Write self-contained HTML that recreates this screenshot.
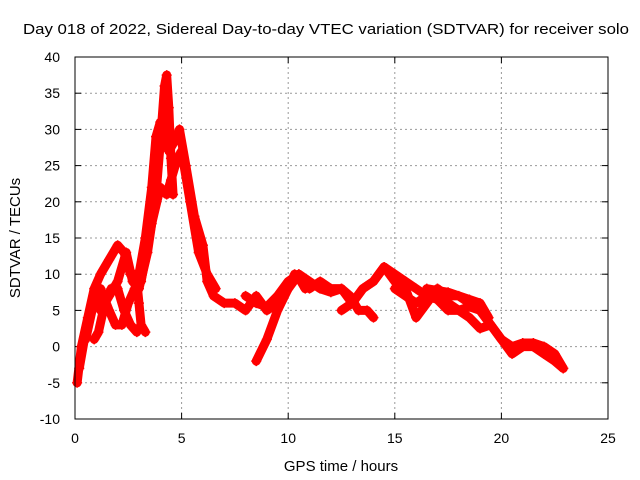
<!DOCTYPE html>
<html><head><meta charset="utf-8"><style>body{margin:0;background:#fff}svg{display:block;font-family:"Liberation Sans",sans-serif}</style></head>
<body>
<svg id="c" width="640" height="480">
<rect width="640" height="480" fill="#fff"/>
<text x="326" y="34" font-size="15" text-anchor="middle" textLength="606" lengthAdjust="spacingAndGlyphs">Day 018 of 2022, Sidereal Day-to-day VTEC variation (SDTVAR) for receiver solo</text>
<text x="341" y="471" font-size="15" text-anchor="middle">GPS time / hours</text>
<text transform="translate(20,238) rotate(-90)" font-size="15" text-anchor="middle">SDTVAR / TECUs</text>
<g id="grid"></g><g id="data"></g>
<rect x="75" y="57" width="533" height="362" fill="none" stroke="#000" stroke-width="1"/>
</svg>
<script>
const xTicks=[0,5,10,15,20,25];
const yTicks=[-10,-5,0,5,10,15,20,25,30,35,40];
const track1=[[0.1,-5],[0.3,0],[0.6,4],[0.9,8],[1.2,10],[1.6,12],[2.0,14],[2.3,13],[2.6,10],[3.0,10],[3.3,15],[3.6,22],[3.8,29],[4.0,31],[4.2,30],[4.4,27],[4.6,28],[4.9,30],[5.2,25],[5.6,18],[6.0,14],[6.2,9],[6.5,7],[7.0,6],[7.5,6],[8.0,5],[8.5,7],[9.0,5],[9.5,6],[10,8],[10.5,10],[11,8],[11.5,9],[12,8],[12.5,8],[13,6],[13.5,8],[14,9],[14.5,11],[15,10],[15.5,9],[16,8],[16.5,7],[17,8],[17.5,7],[18,7],[18.5,6],[19,5],[19.5,3],[20,1],[20.5,-1],[21,0],[21.5,0],[22,-1],[22.5,-2],[22.9,-3]];
const track2=[[0.2,-3],[0.5,2],[0.9,7],[1.2,5],[1.6,7],[2.0,9],[2.4,13],[2.7,9],[3.0,8],[3.4,13],[3.8,21],[4.05,30],[4.2,36],[4.3,37.5],[4.4,33],[4.5,26],[4.6,21]];
const track3=[[0.5,1],[0.8,5],[1.2,8],[1.6,5],[1.9,3],[2.2,3],[2.5,6],[2.8,8],[3.1,9],[3.6,17],[4.0,22],[4.3,21],[4.5,23],[4.8,26],[5.0,27],[5.4,20],[5.8,13],[6.2,10],[6.6,8]];
const track4=[[0.9,1],[1.1,2],[1.4,6],[1.7,8],[2.0,8],[2.3,5],[2.6,3],[2.9,2]];
const track5=[[2.9,9],[3.0,6],[3.1,3],[3.3,2]];
const track6=[[8.5,-2],[9,1],[9.5,5],[10,8],[10.3,10],[10.6,9],[10.8,8]];
const track7=[[8.0,7],[8.5,6],[9.0,5.5],[9.5,7],[10,9],[10.5,10],[11,9],[11.5,8],[12,7.5],[12.5,8],[12.9,7],[13.3,5],[13.7,5],[14,4]];
const track8=[[12.5,5],[13,6],[13.5,8],[14,9],[14.5,11],[15,9],[15.5,8],[16,4],[16.5,6],[17,8],[17.5,6],[18,5],[18.5,5.5],[19,5],[19.5,3],[20,1],[20.5,0],[21,0.5],[21.5,0.5],[22,0],[22.5,-1],[22.9,-3]];
const track9=[[15,8],[15.5,7],[16,6],[16.5,7],[17,6.5],[17.5,5],[18,5],[18.5,4],[19,2.5],[19.5,3]];
const track10=[[16.5,8],[17.5,7.5],[18.5,6.5],[19,6],[19.4,4]];
const tracks=[track1,track2,track3,track4,track5,track6,track7,track8,track9,track10];
const X=t=>75+t*533/25, Y=v=>57+(40-v)*362/50;
const NS='http://www.w3.org/2000/svg';
const g=document.getElementById('grid'), d=document.getElementById('data');
function mk(tag,attrs,parent){const e=document.createElementNS(NS,tag);for(const k in attrs)e.setAttribute(k,attrs[k]);parent.appendChild(e);return e;}
xTicks.forEach(t=>{
 if(t>0&&t<25){const l=mk('line',{x1:X(t),x2:X(t),y1:57,y2:419,stroke:'#999','stroke-dasharray':'2,3'},g);
 
 }
 mk('line',{x1:X(t),x2:X(t),y1:419,y2:413,stroke:'#000'},g);
 mk('line',{x1:X(t),x2:X(t),y1:57,y2:63,stroke:'#000'},g);
 const tx=mk('text',{x:X(t),y:443,'font-size':14,'text-anchor':'middle'},g);tx.textContent=t;
 
 
});
yTicks.forEach(v=>{
 if(v>-10&&v<40){const l=mk('line',{x1:75,x2:608,y1:Y(v),y2:Y(v),stroke:'#999','stroke-dasharray':'2,3'},g);
 
 }
 mk('line',{x1:75,x2:81,y1:Y(v),y2:Y(v),stroke:'#000'},g);
 mk('line',{x1:602,x2:608,y1:Y(v),y2:Y(v),stroke:'#000'},g);
 const tx=mk('text',{x:60,y:Y(v)+5,'font-size':14,'text-anchor':'end'},g);tx.textContent=v;
 
 
});
tracks.forEach((tr,i)=>{
 const p=mk('polyline',{points:tr.map(q=>X(q[0])+','+Y(q[1])).join(' '),fill:'none',stroke:'#f00','stroke-width':9,'stroke-linejoin':'round','stroke-linecap':'round'},d);
 
 
 tr.forEach(q=>{
  const m=mk('path',{d:`M${X(q[0])-5},${Y(q[1])}h10M${X(q[0])},${Y(q[1])-5}v10`,stroke:'#f00','stroke-width':1.5},d);
  
  
 });
});
</script>
</body></html>
